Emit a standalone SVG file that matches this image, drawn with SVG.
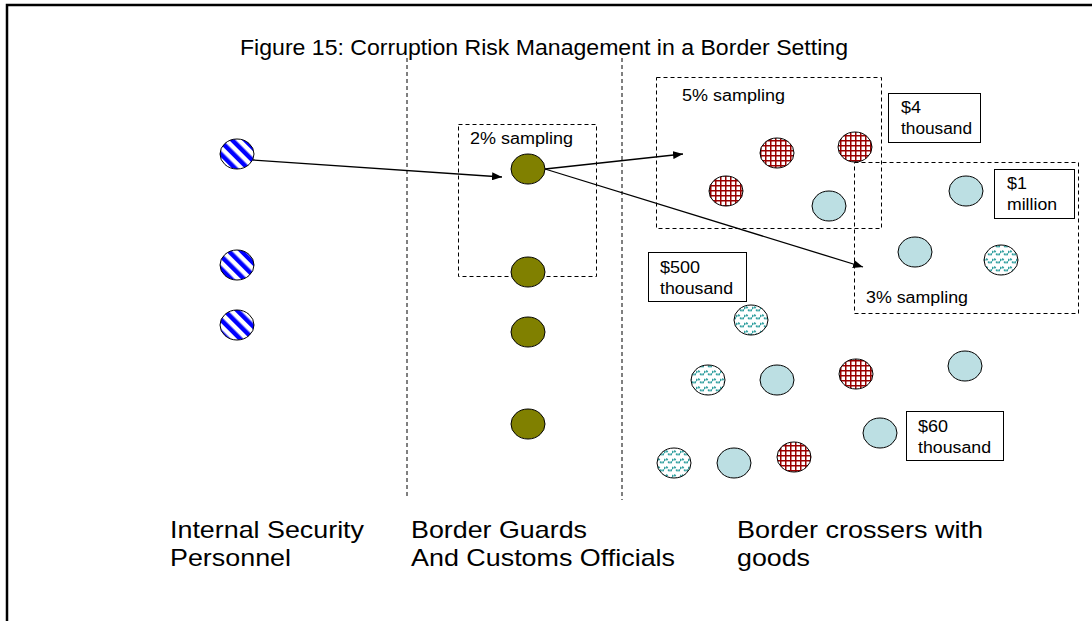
<svg xmlns="http://www.w3.org/2000/svg" width="1092" height="621" viewBox="0 0 1092 621">
<style>
text{font-family:"Liberation Sans",Arial,sans-serif;fill:#000}
.t16{font-size:16px}
.t24{font-size:24px}
.dash{fill:none;stroke:#000;stroke-width:1;stroke-dasharray:4 3}
.lbl{fill:#fff;stroke:#000;stroke-width:1}
.n{stroke:#000;stroke-width:1}
.blue{fill:url(#stripes)}
.olive{fill:#808000}
.red{fill:url(#grid)}
.cyan{fill:#bcdfe3}
.wave{fill:url(#waves)}
.conn{stroke:#000;stroke-width:1.3;fill:none;marker-end:url(#arr)}
</style>
<defs>
<pattern id="stripes" patternUnits="userSpaceOnUse" width="9" height="9" patternTransform="rotate(-45)">
<rect width="9" height="9" fill="#fff"/>
<rect width="4.5" height="9" fill="#0000ff"/>
</pattern>
<pattern id="grid" patternUnits="userSpaceOnUse" width="5" height="5">
<rect width="5" height="5" fill="#fff"/>
<rect width="1.5" height="5" fill="#990000"/>
<rect width="5" height="1.5" fill="#990000"/>
</pattern>
<pattern id="waves" patternUnits="userSpaceOnUse" width="8" height="8">
<rect width="8" height="8" fill="#fff"/>
<path d="M0,5 Q2,1 4,5 T8,5" fill="none" stroke="#2e9e9e" stroke-width="1.8" stroke-dasharray="2 1"/>
</pattern>
<marker id="arr" markerWidth="10" markerHeight="8" refX="10" refY="4" orient="auto" markerUnits="userSpaceOnUse">
<path d="M0,0 L10,4 L0,8 Z" fill="#000"/>
</marker>
</defs>
<rect width="1092" height="621" fill="#fff"/>
<path d="M7,621 V5 H1092" fill="none" stroke="#000" stroke-width="2.5"/>
<text x="240" y="55" style="font-size:22px" textLength="608" lengthAdjust="spacingAndGlyphs">Figure 15: Corruption Risk Management in a Border Setting</text>
<g id="dividers">
<line class="dash" x1="407" y1="58" x2="407" y2="497"/>
<line class="dash" x1="622" y1="58" x2="622" y2="500"/>
</g>
<g id="sample2">
<rect class="dash" x="458.5" y="124.5" width="138" height="152"/>
<text class="t16" x="470" y="144" textLength="103" lengthAdjust="spacingAndGlyphs">2% sampling</text>
</g>
<g id="sample5">
<rect class="dash" x="656.5" y="77.5" width="225" height="151"/>
<text class="t16" x="682" y="101" textLength="103" lengthAdjust="spacingAndGlyphs">5% sampling</text>
</g>
<g id="sample3">
<rect class="dash" x="854.5" y="162.5" width="224" height="151"/>
<text class="t16" x="866" y="303" textLength="102" lengthAdjust="spacingAndGlyphs">3% sampling</text>
</g>
<g id="label4k">
<rect class="lbl" x="888.5" y="93.5" width="92" height="49"/>
<text class="t16" x="901" y="113" textLength="20" lengthAdjust="spacingAndGlyphs">$4</text>
<text class="t16" x="901" y="134" textLength="71" lengthAdjust="spacingAndGlyphs">thousand</text>
</g>
<g id="label1m">
<rect class="lbl" x="994.5" y="169.5" width="80" height="49"/>
<text class="t16" x="1007" y="189" textLength="20" lengthAdjust="spacingAndGlyphs">$1</text>
<text class="t16" x="1007" y="210" textLength="50" lengthAdjust="spacingAndGlyphs">million</text>
</g>
<g id="label500k">
<rect class="lbl" x="648.5" y="252.5" width="98" height="49"/>
<text class="t16" x="660" y="273" textLength="40" lengthAdjust="spacingAndGlyphs">$500</text>
<text class="t16" x="660" y="294" textLength="73" lengthAdjust="spacingAndGlyphs">thousand</text>
</g>
<g id="label60k">
<rect class="lbl" x="906.5" y="411.5" width="97" height="49"/>
<text class="t16" x="918" y="432" textLength="30" lengthAdjust="spacingAndGlyphs">$60</text>
<text class="t16" x="918" y="453" textLength="73" lengthAdjust="spacingAndGlyphs">thousand</text>
</g>
<g id="security">
<ellipse class="n blue" cx="237" cy="154" rx="17" ry="15"/>
<ellipse class="n blue" cx="237" cy="265" rx="17" ry="15"/>
<ellipse class="n blue" cx="237" cy="325" rx="17" ry="15"/>
</g>
<g id="guards">
<ellipse class="n olive" cx="528" cy="169" rx="17" ry="15"/>
<ellipse class="n olive" cx="528" cy="272" rx="17" ry="15"/>
<ellipse class="n olive" cx="528" cy="332" rx="17" ry="15"/>
<ellipse class="n olive" cx="528" cy="424" rx="17" ry="15"/>
</g>
<g id="crossers">
<ellipse class="n red" cx="777" cy="153" rx="17" ry="15"/>
<ellipse class="n red" cx="855" cy="147" rx="17" ry="15"/>
<ellipse class="n red" cx="726" cy="191" rx="17" ry="15"/>
<ellipse class="n red" cx="856" cy="374" rx="17" ry="15"/>
<ellipse class="n red" cx="794" cy="457" rx="17" ry="15"/>
<ellipse class="n cyan" cx="829" cy="206" rx="17" ry="15"/>
<ellipse class="n cyan" cx="966" cy="191" rx="17" ry="15"/>
<ellipse class="n cyan" cx="915" cy="252" rx="17" ry="15"/>
<ellipse class="n cyan" cx="777" cy="380" rx="17" ry="15"/>
<ellipse class="n cyan" cx="965" cy="366" rx="17" ry="15"/>
<ellipse class="n cyan" cx="880" cy="433" rx="17" ry="15"/>
<ellipse class="n cyan" cx="734" cy="463" rx="17" ry="15"/>
<ellipse class="n wave" cx="1001" cy="260" rx="17" ry="15"/>
<ellipse class="n wave" cx="751" cy="320" rx="17" ry="15"/>
<ellipse class="n wave" cx="708" cy="380" rx="17" ry="15"/>
<ellipse class="n wave" cx="674" cy="463" rx="17" ry="15"/>
</g>
<g id="connectors">
<line class="conn" x1="253" y1="160" x2="502" y2="177"/>
<line class="conn" x1="545" y1="169" x2="683" y2="154"/>
<line class="conn" x1="545" y1="169" x2="863" y2="267"/>
</g>
<g id="captions">
<text class="t24" x="170" y="538" textLength="194" lengthAdjust="spacingAndGlyphs">Internal Security</text>
<text class="t24" x="170" y="566" textLength="121" lengthAdjust="spacingAndGlyphs">Personnel</text>
<text class="t24" x="411" y="538" textLength="176" lengthAdjust="spacingAndGlyphs">Border Guards</text>
<text class="t24" x="411" y="566" textLength="264" lengthAdjust="spacingAndGlyphs">And Customs Officials</text>
<text class="t24" x="737" y="538" textLength="246" lengthAdjust="spacingAndGlyphs">Border crossers with</text>
<text class="t24" x="737" y="566" textLength="73" lengthAdjust="spacingAndGlyphs">goods</text>
</g>
</svg>
